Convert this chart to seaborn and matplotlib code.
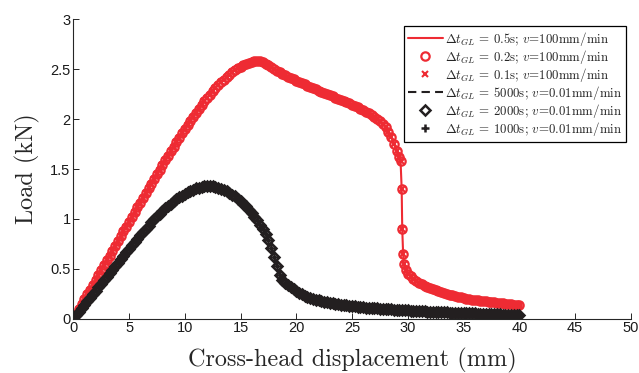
import matplotlib
matplotlib.use("Agg")
import matplotlib.pyplot as plt
import seaborn as sns
from matplotlib.ticker import StrMethodFormatter

# ---------------- data ----------------
red_disp = [0.0, 0.25, 0.5, 0.75, 1.0, 1.25, 1.5, 1.75, 2.0, 2.25, 2.5, 2.75, 3.0, 3.25, 3.5, 3.75, 4.0, 4.25, 4.5, 4.75,
            5.0, 5.25, 5.5, 5.75, 6.0, 6.25, 6.5, 6.75, 7.0, 7.25, 7.5, 7.75, 8.0, 8.25, 8.5, 8.75, 9.0, 9.25, 9.5, 9.75,
            10.0, 10.25, 10.5, 10.75, 11.0, 11.25, 11.5, 11.75, 12.0, 12.25, 12.5, 12.75, 13.0, 13.25, 13.5, 13.75, 14.0, 14.25, 14.5, 14.75,
            15.0, 15.25, 15.5, 15.75, 16.0, 16.25, 16.5, 16.75, 17.0, 17.25, 17.5, 17.75, 18.0, 18.25, 18.5, 18.75, 19.0, 19.25, 19.5, 19.75,
            20.0, 20.25, 20.5, 20.75, 21.0, 21.25, 21.5, 21.75, 22.0, 22.25, 22.5, 22.75, 23.0, 23.25, 23.5, 23.75, 24.0, 24.25, 24.5, 24.75,
            25.0, 25.25, 25.5, 25.75, 26.0, 26.25, 26.5, 26.75, 27.0, 27.25, 27.5, 27.75, 28.0, 28.25, 28.5, 28.75,
            29.0, 29.2, 29.35, 29.45, 29.5, 29.58, 29.65, 29.8,
            30.0, 30.25, 30.5, 30.75, 31.0, 31.25, 31.5, 31.75, 32.0, 32.25, 32.5, 32.75, 33.0, 33.25, 33.5, 33.75, 34.0, 34.25, 34.5, 34.75,
            35.0, 35.25, 35.5, 35.75, 36.0, 36.25, 36.5, 36.75, 37.0, 37.25, 37.5, 37.75, 38.0, 38.25, 38.5, 38.75, 39.0, 39.25, 39.5, 39.75,
            40.0]
red_load = [0.000, 0.049, 0.098, 0.146, 0.195, 0.243, 0.292, 0.341, 0.390, 0.439, 0.488, 0.537, 0.585, 0.633, 0.681, 0.730, 0.779, 0.827, 0.875, 0.923,
            0.971, 1.019, 1.067, 1.115, 1.163, 1.211, 1.259, 1.306, 1.353, 1.400, 1.447, 1.494, 1.540, 1.586, 1.632, 1.678, 1.723, 1.768, 1.813, 1.857,
            1.900, 1.943, 1.985, 2.026, 2.066, 2.104, 2.141, 2.177, 2.211, 2.245, 2.278, 2.310, 2.340, 2.368, 2.395, 2.421, 2.445, 2.468, 2.490, 2.509,
            2.526, 2.541, 2.555, 2.567, 2.577, 2.583, 2.585, 2.580, 2.570, 2.556, 2.540, 2.522, 2.505, 2.487, 2.470, 2.455, 2.440, 2.425, 2.411, 2.398,
            2.385, 2.372, 2.360, 2.347, 2.335, 2.322, 2.310, 2.297, 2.285, 2.272, 2.260, 2.250, 2.240, 2.227, 2.215, 2.205, 2.195, 2.182, 2.170, 2.158,
            2.145, 2.133, 2.120, 2.105, 2.090, 2.075, 2.060, 2.041, 2.020, 2.000, 1.978, 1.951, 1.920, 1.875, 1.820, 1.755,
            1.680, 1.620, 1.580, 1.300, 0.900, 0.650, 0.550, 0.490,
            0.450, 0.423, 0.400, 0.379, 0.360, 0.344, 0.330, 0.317, 0.305, 0.294, 0.284, 0.274, 0.265, 0.257, 0.249, 0.242, 0.235, 0.228, 0.222, 0.214,
            0.207, 0.201, 0.196, 0.192, 0.188, 0.184, 0.180, 0.176, 0.173, 0.169, 0.166, 0.163, 0.160, 0.157, 0.154, 0.151, 0.148, 0.145, 0.142, 0.140,
            0.137]

black_disp = [0.0, 0.25, 0.5, 0.75, 1.0, 1.25, 1.5, 1.75, 2.0, 2.25, 2.5, 2.75, 3.0, 3.25, 3.5, 3.75, 4.0, 4.25, 4.5, 4.75,
              5.0, 5.25, 5.5, 5.75, 6.0, 6.25, 6.5, 6.75, 7.0, 7.25, 7.5, 7.75, 8.0, 8.25, 8.5, 8.75, 9.0, 9.25, 9.5, 9.75,
              10.0, 10.25, 10.5, 10.75, 11.0, 11.25, 11.5, 11.75, 12.0, 12.25, 12.5, 12.75, 13.0, 13.25, 13.5, 13.75, 14.0, 14.25, 14.5, 14.75,
              15.0, 15.25, 15.5, 15.75, 16.0, 16.25, 16.5, 16.75, 17.0, 17.25, 17.5, 17.75, 18.0, 18.25, 18.5, 18.75, 19.0, 19.25, 19.5, 19.75,
              20.0, 20.25, 20.5, 20.75, 21.0, 21.25, 21.5, 21.75, 22.0, 22.25, 22.5, 22.75, 23.0, 23.25, 23.5, 23.75, 24.0, 24.25, 24.5, 24.75,
              25.0, 25.25, 25.5, 25.75, 26.0, 26.25, 26.5, 26.75, 27.0, 27.25, 27.5, 27.75, 28.0, 28.25, 28.5, 28.75, 29.0, 29.25, 29.5, 29.75,
              30.0, 30.25, 30.5, 30.75, 31.0, 31.25, 31.5, 31.75, 32.0, 32.25, 32.5, 32.75, 33.0, 33.25, 33.5, 33.75, 34.0, 34.25, 34.5, 34.75,
              35.0, 35.25, 35.5, 35.75, 36.0, 36.25, 36.5, 36.75, 37.0, 37.25, 37.5, 37.75, 38.0, 38.25, 38.5, 38.75, 39.0, 39.25, 39.5, 39.75,
              40.0]
black_load = [0.000, 0.035, 0.070, 0.105, 0.140, 0.175, 0.210, 0.245, 0.280, 0.315, 0.350, 0.385, 0.420, 0.455, 0.490, 0.525, 0.560, 0.595, 0.630, 0.665,
              0.700, 0.735, 0.769, 0.802, 0.835, 0.868, 0.900, 0.933, 0.965, 0.995, 1.025, 1.053, 1.080, 1.106, 1.130, 1.153, 1.175, 1.196, 1.215, 1.233,
              1.250, 1.266, 1.280, 1.293, 1.305, 1.314, 1.322, 1.327, 1.330, 1.329, 1.325, 1.318, 1.310, 1.300, 1.290, 1.276, 1.260, 1.243, 1.225, 1.203,
              1.180, 1.153, 1.125, 1.093, 1.060, 1.023, 0.985, 0.942, 0.895, 0.845, 0.785, 0.710, 0.620, 0.530, 0.440, 0.390, 0.360, 0.336, 0.315, 0.294,
              0.275, 0.259, 0.245, 0.232, 0.220, 0.210, 0.200, 0.192, 0.185, 0.177, 0.170, 0.165, 0.160, 0.155, 0.150, 0.145, 0.140, 0.136, 0.133, 0.130,
              0.127, 0.124, 0.121, 0.118, 0.115, 0.112, 0.110, 0.107, 0.105, 0.103, 0.101, 0.099, 0.097, 0.095, 0.093, 0.091, 0.089, 0.087, 0.086, 0.084,
              0.083, 0.081, 0.080, 0.078, 0.077, 0.075, 0.074, 0.072, 0.071, 0.069, 0.068, 0.067, 0.066, 0.064, 0.063, 0.062, 0.061, 0.060, 0.059, 0.058,
              0.057, 0.056, 0.055, 0.054, 0.053, 0.052, 0.051, 0.050, 0.049, 0.048, 0.047, 0.046, 0.045, 0.043, 0.042, 0.041, 0.040, 0.039, 0.038, 0.037,
              0.036]

labels = [r"$\Delta t_{GL}$ = 0.5s; $v$=100mm/min",
          r"$\Delta t_{GL}$ = 0.2s; $v$=100mm/min",
          r"$\Delta t_{GL}$ = 0.1s; $v$=100mm/min",
          r"$\Delta t_{GL}$ = 5000s; $v$=0.01mm/min",
          r"$\Delta t_{GL}$ = 2000s; $v$=0.01mm/min",
          r"$\Delta t_{GL}$ = 1000s; $v$=0.01mm/min"]
x_ticks = [0, 5, 10, 15, 20, 25, 30, 35, 40, 45, 50]
y_ticks = [0, 0.5, 1, 1.5, 2, 2.5, 3]

RED = "#EE2B33"
BLACK = "#231F20"

# ---------------- style ----------------
sns.set_theme(style="ticks")
plt.rcParams.update({
    "font.family": ["Liberation Sans", "DejaVu Sans"],
    "mathtext.fontset": "cm",
    "axes.unicode_minus": False,
    "axes.edgecolor": "#262626",
    "axes.linewidth": 0.8,
    "xtick.direction": "in",
    "ytick.direction": "in",
    "xtick.major.size": 4,
    "ytick.major.size": 4,
    "xtick.major.width": 0.7,
    "ytick.major.width": 0.7,
    "xtick.color": "#262626",
    "ytick.color": "#262626",
})

fig = plt.figure(figsize=(6.39, 3.73), dpi=100)
ax = fig.add_axes([0.1147, 0.1456, 0.8725, 0.8026])

common = dict(ax=ax, estimator=None, sort=False)

sns.lineplot(x=red_disp, y=red_load, color=RED, linewidth=1.5,
             label=labels[0], **common)
sns.lineplot(x=red_disp, y=red_load, color=RED, linestyle="none",
             marker="o", markersize=6, markerfacecolor="none",
             markeredgecolor=RED, markeredgewidth=1.6,
             label=labels[1], **common)
sns.lineplot(x=red_disp, y=red_load, color=RED, linestyle="none",
             marker="x", markersize=4, markeredgecolor=RED,
             markeredgewidth=1.5, label=labels[2], **common)

sns.lineplot(x=black_disp, y=black_load, color=BLACK, linewidth=1.5,
             linestyle=(0, (4, 2.5)), label=labels[3], **common)
sns.lineplot(x=black_disp, y=black_load, color=BLACK, linestyle="none",
             marker="D", markersize=5.5, markerfacecolor="none",
             markeredgecolor=BLACK, markeredgewidth=1.8,
             label=labels[4], **common)
sns.lineplot(x=black_disp, y=black_load, color=BLACK, linestyle="none",
             marker="+", markersize=5.5, markeredgecolor=BLACK,
             markeredgewidth=1.8, label=labels[5], **common)

ax.set_xlim(0, 50)
ax.set_ylim(0, 3)
ax.set_xticks(x_ticks)
ax.set_yticks(y_ticks)
ax.yaxis.set_major_formatter(StrMethodFormatter("{x:g}"))
ax.tick_params(labelsize=10.5, pad=2)
for lab in ax.get_xticklabels() + ax.get_yticklabels():
    lab.set_color("#1a1a1a")

sns.despine(ax=ax)

ax.set_xlabel("Cross-head displacement (mm)", fontfamily="cmr10",
              fontsize=17.5, labelpad=9)
ax.set_ylabel("Load (kN)", fontfamily="cmr10", fontsize=17.5, labelpad=7)

handles, labs = ax.get_legend_handles_labels()
leg = ax.legend(handles, labs, loc="upper right",
                bbox_to_anchor=(626 / 639, 1 - 26 / 373),
                bbox_transform=fig.transFigure, borderaxespad=0,
                fancybox=False, frameon=True, framealpha=1,
                edgecolor="black", prop={"family": "cmr10", "size": 9.3},
                handlelength=2.7, handletextpad=0.15, borderpad=0.3,
                labelspacing=0.0, numpoints=1)
leg.get_frame().set_linewidth(0.9)

fig.savefig("out.png", dpi=100)
